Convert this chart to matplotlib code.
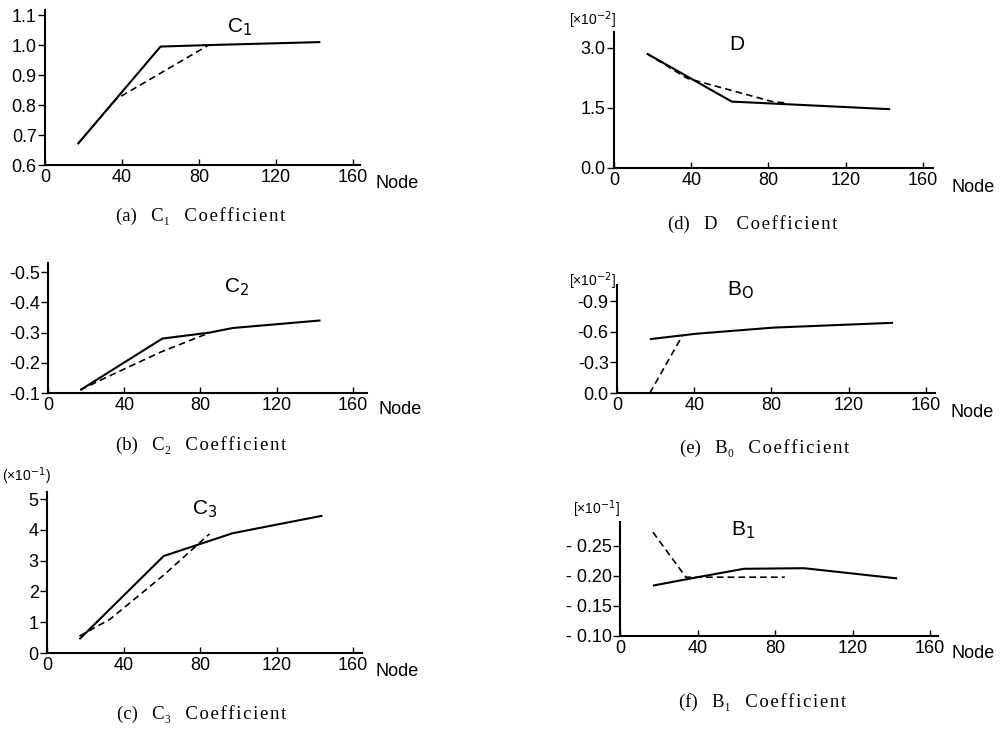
import matplotlib
matplotlib.use("Agg")
import matplotlib.pyplot as plt
from matplotlib.ticker import FixedLocator, FixedFormatter

plt.rcParams['font.family'] = ['Liberation Sans', 'DejaVu Sans']

# node numbers and coefficient values
c1_x = [17, 60, 85, 143]
c1_solid = [0.67, 0.995, 1.0, 1.01]
c1_dash_x = [17, 37, 85]
c1_dash = [0.67, 0.82, 1.0]

c2_x = [17, 60, 85, 97, 143]
c2_solid = [-0.11, -0.28, -0.30, -0.315, -0.34]
c2_dash_x = [17, 30, 59, 85]
c2_dash = [-0.11, -0.15, -0.235, -0.30]

c3_x = [17, 61, 97, 144]
c3_solid = [0.45, 3.15, 3.89, 4.46]
c3_dash_x = [17, 33, 61, 85]
c3_dash = [0.55, 1.1, 2.53, 3.87]

d_x = [17, 61, 100, 143]
d_solid = [2.86, 1.66, 1.57, 1.47]
d_dash_x = [17, 38, 82, 90]
d_dash = [2.86, 2.24, 1.66, 1.62]

b0_x = [17, 41, 81, 143]
b0_solid = [-0.527, -0.58, -0.64, -0.687]
b0_dash_x = [17, 34]
b0_dash = [0.0, -0.566]

b1_x = [17, 40, 64, 95, 143]
b1_solid = [-0.184, -0.198, -0.212, -0.213, -0.196]
b1_dash_x = [17, 34, 85]
b1_dash = [-0.273, -0.198, -0.198]

xticks = [0, 40, 80, 120, 160]

fig = plt.figure(figsize=(10, 7.31), dpi=100)
W, H = 1000, 731
serif = ['Liberation Serif', 'DejaVu Serif']
word = '\u200a'.join('Coefficient')


def make_ax(left, right, top, bottom, xmax, ylim):
    ax = fig.add_axes([left / W, 1 - bottom / H, (right - left) / W, (bottom - top) / H])
    ax.set_xlim(0, xmax)
    ax.set_ylim(*ylim)
    for s in ['top', 'right']:
        ax.spines[s].set_visible(False)
    for s in ['left', 'bottom']:
        ax.spines[s].set_linewidth(1.5)
    ax.set_xticks(xticks)
    ax.tick_params(axis='x', direction='in', length=4, width=1, labelsize=13, pad=3)
    ax.tick_params(axis='y', direction='out', length=5, width=1, labelsize=13, pad=1)
    ax.patch.set_alpha(0)
    return ax


def draw(ax, x, solid, dx, dash):
    ax.plot(x, solid, color='black', lw=1.5, solid_capstyle='butt')
    ax.plot(dx, dash, color='black', lw=1.2, ls=(0, (4, 2.5)))


def set_yt(ax, vals, labels):
    ax.yaxis.set_major_locator(FixedLocator(vals))
    ax.yaxis.set_major_formatter(FixedFormatter(labels))


def caption(x, y, s):
    fig.text(x / W, 1 - y / H, s, family=serif, fontsize=13.5, ha='center', va='center')


def label(x, y, s, size=13):
    fig.text(x / W, 1 - y / H, s, fontsize=size, ha='center', va='center')


# (a)
ax = make_ax(45, 360, 10, 165, 163.6, (0.6, 1.117))
draw(ax, c1_x, c1_solid, c1_dash_x, c1_dash)
set_yt(ax, [0.6, 0.7, 0.8, 0.9, 1.0, 1.1], ['0.6', '0.7', '0.8', '0.9', '1.0', '1.1'])
label(240, 27, 'C$_1$', 15)
label(397, 183, 'Node')
caption(201, 216, '(a)   C\u2081   ' + word)

# (b)
ax = make_ax(48, 367, 263, 393, 167.4, (-0.1, -0.53))
draw(ax, c2_x, c2_solid, c2_dash_x, c2_dash)
set_yt(ax, [-0.1, -0.2, -0.3, -0.4, -0.5], ['-0.1', '-0.2', '-0.3', '-0.4', '-0.5'])
label(237, 287, 'C$_2$', 15)
label(400, 409, 'Node')
caption(201, 445, '(b)   C\u2082   ' + word)

# (c)
ax = make_ax(47, 362, 492, 653, 164.7, (0, 5.23))
draw(ax, c3_x, c3_solid, c3_dash_x, c3_dash)
set_yt(ax, [0, 1, 2, 3, 4, 5], ['0', '1', '2', '3', '4', '5'])
label(205, 509, 'C$_3$', 15)
label(26, 476, '(\u00d710$^{-1}$)', 10)
label(397, 671, 'Node')
caption(202, 714, '(c)   C\u2083   ' + word)

# (d)
ax = make_ax(614, 933, 32, 168, 165.2, (0, 3.4))
draw(ax, d_x, d_solid, d_dash_x, d_dash)
set_yt(ax, [0, 1.5, 3.0], ['0.0', '1.5', '3.0'])
label(737, 45, 'D', 15)
label(592, 20, '[\u00d710$^{-2}$]', 10)
label(973, 188, 'Node')
caption(753, 224, '(d)   D    ' + word)

# (e)
ax = make_ax(617, 935, 285, 393, 164.7, (0, -1.057))
draw(ax, b0_x, b0_solid, b0_dash_x, b0_dash)
set_yt(ax, [0, -0.3, -0.6, -0.9], ['0.0', '-0.3', '-0.6', '-0.9'])
label(740, 290, 'B$_\\mathrm{O}$', 15)
label(592, 281, '[\u00d710$^{-2}$]', 10)
label(972, 412, 'Node')
caption(765, 448, '(e)   B\u2080   ' + word)

# (f)
ax = make_ax(620, 938, 522, 636, 164.1, (-0.10, -0.29))
draw(ax, b1_x, b1_solid, b1_dash_x, b1_dash)
set_yt(ax, [-0.10, -0.15, -0.20, -0.25], ['- 0.10', '- 0.15', '- 0.20', '- 0.25'])
label(743, 530, 'B$_1$', 15)
label(596, 509, '[\u00d710$^{-1}$]', 10)
label(973, 653, 'Node')
caption(763, 702, '(f)   B\u2081   ' + word)

fig.savefig('out.png', dpi=100)
